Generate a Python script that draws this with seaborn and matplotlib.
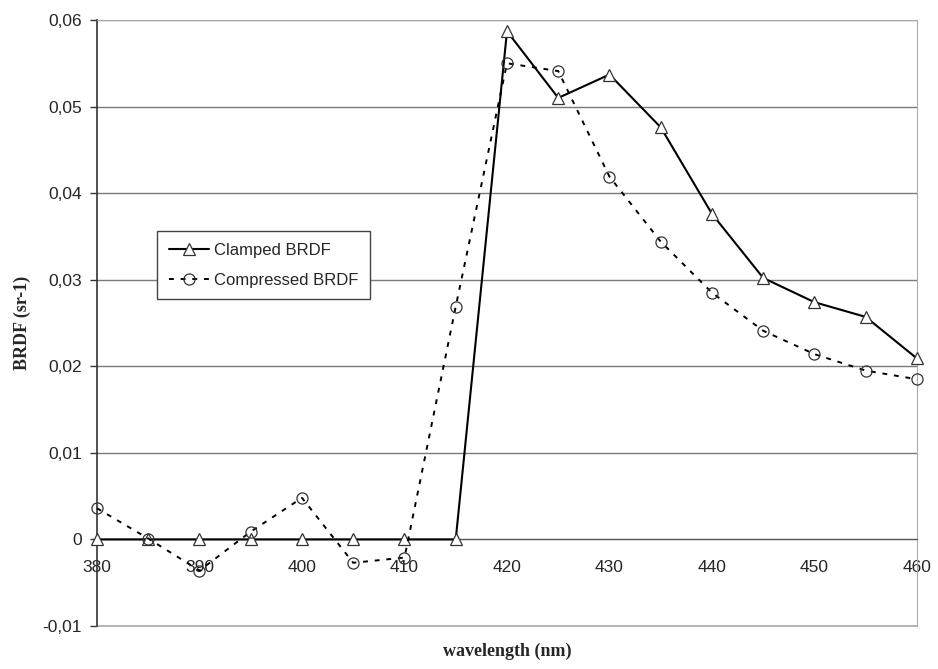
import numpy as np
import pandas as pd
import matplotlib
matplotlib.use('Agg')
import matplotlib.pyplot as plt
from matplotlib.ticker import FuncFormatter, MultipleLocator
import seaborn as sns

# wavelengths (nm)
wavelength = [380, 385, 390, 395, 400, 405, 410, 415, 420, 425, 430, 435, 440, 445, 450, 455, 460]

# BRDF values (sr-1)
clamped = [0, 0, 0, 0, 0, 0, 0, 0, 0.0587, 0.0510, 0.0537, 0.0476, 0.0376, 0.0302,
           0.0274, 0.0257, 0.0209]
compressed = [0.0036, 0.0001, -0.0036, 0.0009, 0.0048, -0.0027, -0.0021, 0.0269, 0.0550,
              0.0541, 0.0419, 0.0344, 0.0285, 0.0241, 0.0214, 0.0195, 0.0185]

df = pd.DataFrame({'wavelength': wavelength, 'Clamped BRDF': clamped,
                   'Compressed BRDF': compressed})

sns.set_style('white')
plt.rcParams['font.family'] = ['Liberation Sans', 'DejaVu Sans']

fig = plt.figure(figsize=(9.38, 6.69), dpi=100)
ax = fig.add_axes([0.1034, 0.0643, 0.8742, 0.9058])

sns.lineplot(data=df, x='wavelength', y='Clamped BRDF', ax=ax, color='black', lw=1.5,
             marker='^', markersize=9, markerfacecolor='white', markeredgecolor='#333333',
             markeredgewidth=0.9, label='Clamped BRDF', clip_on=False, zorder=4)
sns.lineplot(data=df, x='wavelength', y='Compressed BRDF', ax=ax, color='black', lw=1.4,
             ls=(0, (2.5, 3.5)), marker='o', markersize=8, markerfacecolor='none',
             markeredgecolor='#333333', markeredgewidth=0.9, label='Compressed BRDF',
             clip_on=False, zorder=4)

ax.set_xlim(380, 460)
ax.set_ylim(-0.01, 0.06)
ax.xaxis.set_major_locator(MultipleLocator(10))
ax.yaxis.set_major_locator(MultipleLocator(0.01))


def comma_fmt(v, pos):
    if abs(v) < 1e-9:
        return '0'
    return f'{v:.2f}'.replace('.', ',')


ax.yaxis.set_major_formatter(FuncFormatter(comma_fmt))

ax.grid(axis='y', color='#7a7a7a', lw=1.0)
ax.grid(axis='x', visible=False)
ax.axhline(-0.01, color='#aaaaaa', lw=1.2, clip_on=False)

ax.spines['bottom'].set_position(('data', 0))
ax.spines['bottom'].set_color('#555555')
ax.spines['left'].set_color('#333333')
ax.spines['left'].set_linewidth(1.2)
ax.spines['top'].set_color('#aaaaaa')
ax.spines['right'].set_color('#aaaaaa')

ax.tick_params(axis='x', direction='inout', length=11, width=1, color='#555555',
               pad=9, labelsize=12.5)
ax.tick_params(axis='y', direction='out', length=5, width=1, color='#333333',
               pad=6, labelsize=12.5, left=True)

ax.set_xlabel('wavelength (nm)', family=['Liberation Serif', 'DejaVu Serif'],
              fontweight='bold', fontsize=13)
ax.xaxis.set_label_coords(0.5, -0.027)
ax.set_ylabel('BRDF (sr-1)', family=['Liberation Serif', 'DejaVu Serif'],
              fontweight='bold', fontsize=13, labelpad=8)

leg = ax.legend(loc='upper left', bbox_to_anchor=(0.073, 0.652), fancybox=False,
                edgecolor='#444444', framealpha=1, fontsize=12, handlelength=2.4,
                handletextpad=0.3, borderaxespad=0, labelspacing=0.9, borderpad=0.7)
leg.get_frame().set_linewidth(1.0)

fig.savefig('out.png', dpi=100)
